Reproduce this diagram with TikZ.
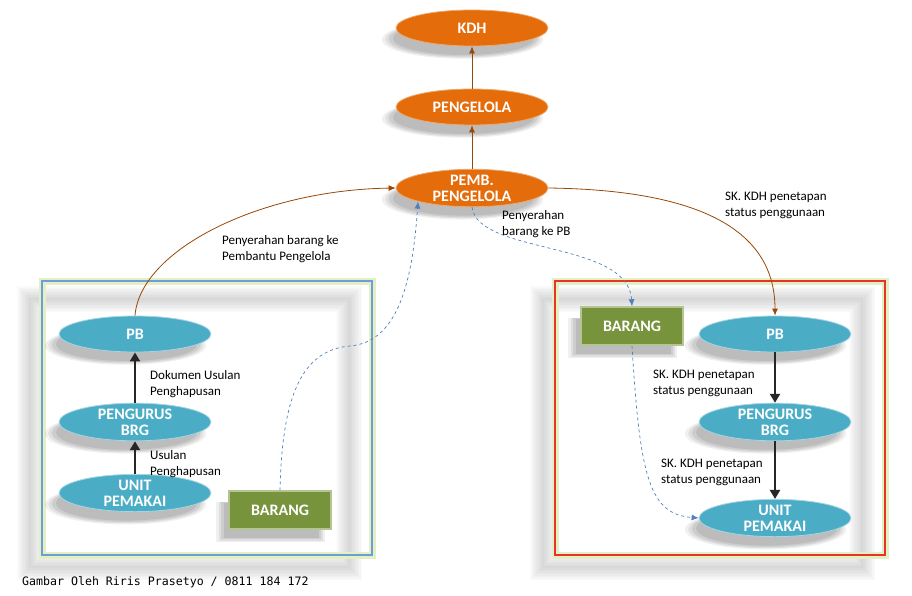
\documentclass[tikz,border=0pt]{standalone}
\usepackage{fontspec}
\setmainfont{Carlito}
\newfontfamily\footfont{DejaVu Sans Mono}
\usetikzlibrary{shapes.geometric,shadows,arrows.meta}

\definecolor{kdhorange}{HTML}{E46C0A}
\definecolor{unitblue}{HTML}{4BACC6}
\definecolor{brggreen}{HTML}{77933C}
\definecolor{flowbrown}{HTML}{984807}
\definecolor{flowblue}{HTML}{4F81BD}
\definecolor{frameblue}{HTML}{6A9FDB}
\definecolor{framered}{HTML}{E8322A}
\definecolor{frameglow}{HTML}{E4F0C4}

\tikzset{
  softshadow/.style={
    general shadow={shadow xshift=-9pt, shadow yshift=-11pt, shadow scale=1.06, fill=black, opacity=.06},
    general shadow={shadow xshift=-9pt, shadow yshift=-11pt, shadow scale=1.02, fill=black, opacity=.07},
    general shadow={shadow xshift=-9pt, shadow yshift=-11pt, shadow scale=.98, fill=black, opacity=.08},
    general shadow={shadow xshift=-9pt, shadow yshift=-11pt, shadow scale=.93, fill=black, opacity=.08}},
  oval/.style={ellipse, minimum width=152pt, minimum height=36pt, inner sep=0pt,
    align=center, text=white, font=\bfseries\fontsize{16}{16}\selectfont, softshadow},
  pejabat/.style={oval, fill=kdhorange, draw=kdhorange!60!white, line width=.8pt},
  unitoval/.style={oval, fill=unitblue, draw=unitblue!50!white, line width=.8pt},
  barangbox/.style={rectangle, minimum width=102pt, minimum height=38pt, inner sep=0pt,
    fill=brggreen, draw=brggreen!55!white, line width=1.5pt, text=white,
    font=\bfseries\fontsize{16}{16}\selectfont, softshadow},
  ket/.style={anchor=north west, align=left, inner sep=0pt, font=\fontsize{13}{16}\selectfont},
  alur/.style={draw=flowbrown, line width=.8pt, -{Latex[length=7pt,width=6pt]}},
  serah/.style={draw=flowblue, dashed, line width=.7pt, -{Latex[length=7pt,width=6pt]}},
  dokumen/.style={draw=black!85, line width=2.6pt, -{Triangle[length=9pt,width=10pt]}}
}

\begin{document}
\begin{tikzpicture}[x=1pt,y=-1pt]
\useasboundingbox[fill=white] (0,0) rectangle (912,595);

\foreach \dx/\col in {0/frameblue,513/framered} {
  \begin{scope}[xshift=\dx pt]
    \foreach \w in {26,23,...,2}
      \draw[gray, opacity=.035, line width=\w pt] (30,299) rectangle (349,567);
    \draw[frameglow, line width=7pt] (42,281) rectangle (372,555);
    \draw[\col, line width=2.5pt] (42,281) rectangle (372,555);
  \end{scope}
}

\node[pejabat] (kdh) at (472,28) {KDH};
\node[pejabat] (pengelola) at (472,107) {PENGELOLA};
\node[pejabat] (pemb) at (472,188) {PEMB.\\PENGELOLA};

\node[unitoval] (lpb) at (135,334) {PB};
\node[unitoval] (lpengurus) at (135,422) {PENGURUS\\BRG};
\node[unitoval] (lunit) at (135,493) {UNIT\\PEMAKAI};
\node[barangbox] (lbarang) at (280,510) {BARANG};

\node[barangbox] (rbarang) at (632,326) {BARANG};
\node[unitoval] (rpb) at (775,334) {PB};
\node[unitoval] (rpengurus) at (775,422) {PENGURUS\\BRG};
\node[unitoval] (runit) at (775,518) {UNIT\\PEMAKAI};

\draw[alur] (pemb) -- (pengelola);
\draw[alur] (pengelola) -- (kdh);
\draw[alur] (lpb.north) .. controls (140,250) and (260,190) .. (pemb.west);
\draw[alur] (pemb.east) .. controls (700,190) and (775,230) .. (rpb.north);

\draw[dokumen] (lpengurus) -- (lpb);
\draw[dokumen] (lunit) -- (lpengurus);
\draw[dokumen] (rpb) -- (rpengurus);
\draw[dokumen] (rpengurus) -- (runit);

\draw[serah] (lbarang.north) .. controls (282,400) and (300,350) .. (350,346)
  .. controls (395,342) and (412,290) .. (pemb.south west);
\draw[serah] (pemb.south) .. controls (478,255) and (628,240) .. (rbarang.north);
\draw[serah] (rbarang.south) .. controls (640,480) and (650,514) .. (runit.west);

\node[ket] (kpembantu) at (222,235) {Penyerahan barang ke\\Pembantu Pengelola};
\node[ket] (kdokumen) at (150,370) {Dokumen Usulan\\Penghapusan};
\node[ket] (kusulan) at (150,450) {Usulan\\Penghapusan};
\node[ket] (kserah) at (502,210) {Penyerahan\\barang ke  PB};
\node[ket] (ksk) at (725,192) {SK. KDH penetapan\\status penggunaan};
\node[ket] (ksk1) at (653,370) {SK. KDH penetapan\\status penggunaan};
\node[ket] (ksk2) at (661,459) {SK. KDH penetapan\\status penggunaan};

\node[anchor=west, inner sep=0pt, font=\footfont\fontsize{11.6}{12}\selectfont] (footer) at (22,582)
  {Gambar Oleh Riris Prasetyo / 0811 184 172};
\end{tikzpicture}
\end{document}
